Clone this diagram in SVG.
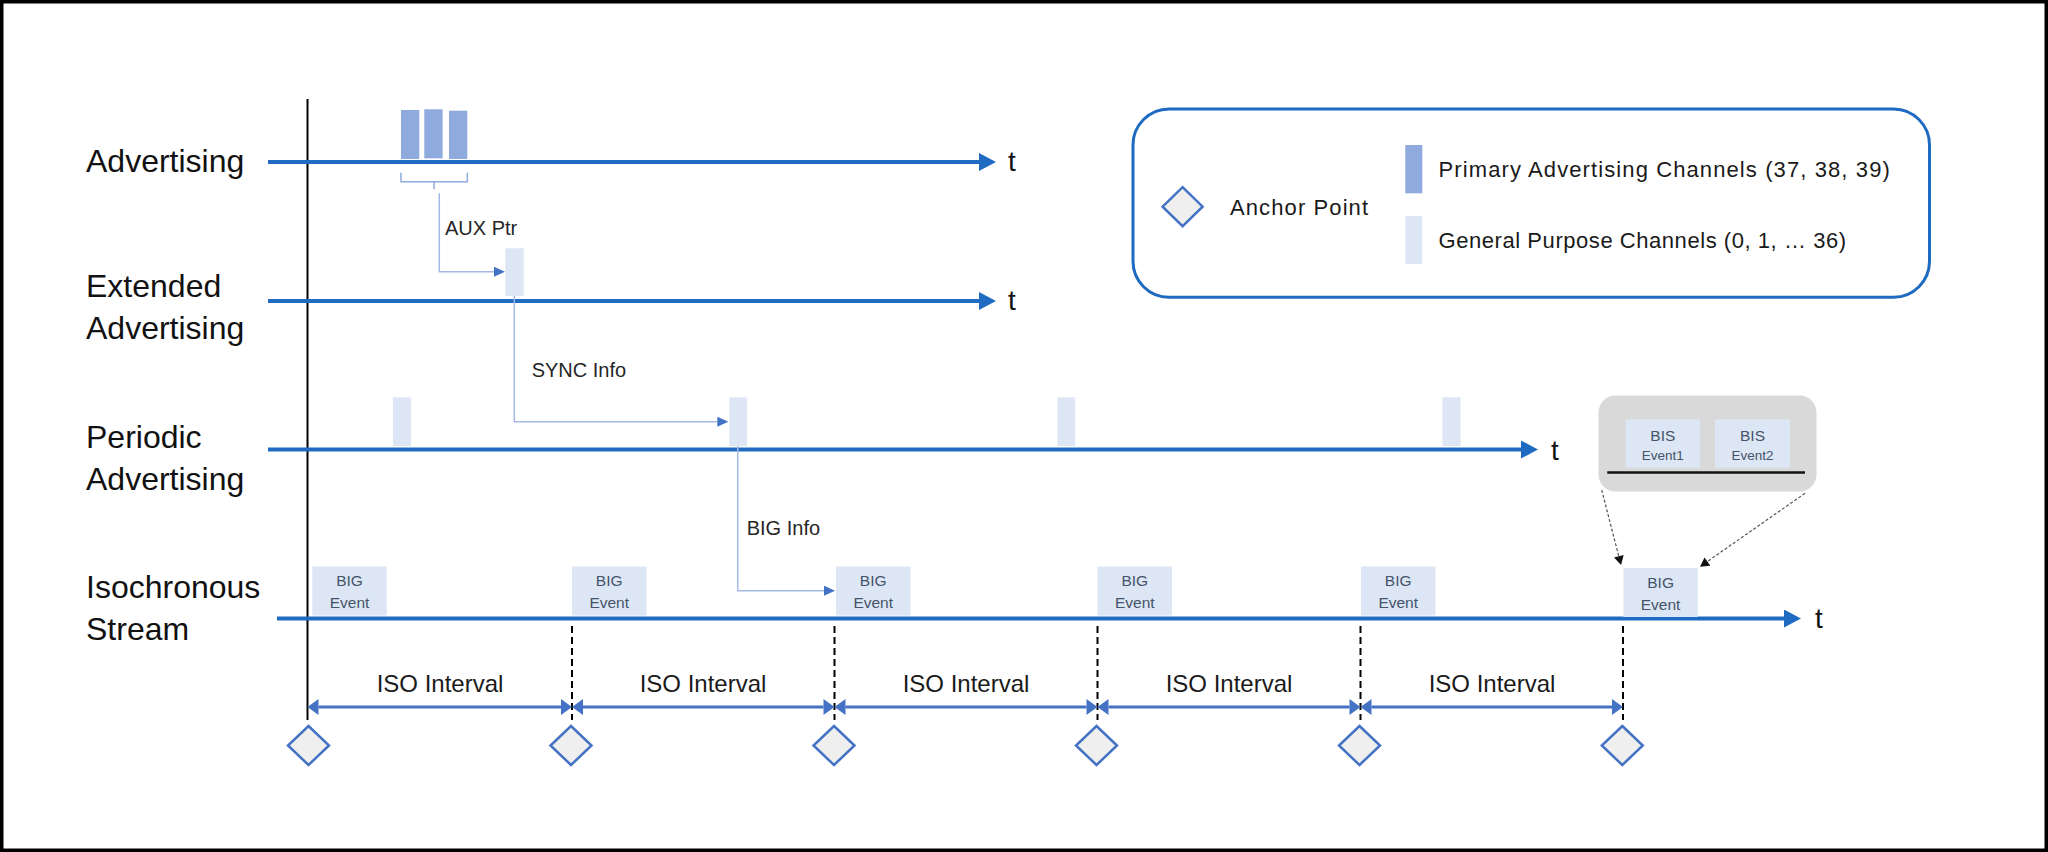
<svg xmlns="http://www.w3.org/2000/svg" width="2048" height="852" viewBox="0 0 2048 852">
<defs>
<style>
.lbl{font-family:"Liberation Sans",Arial,sans-serif;font-size:32px;fill:#111}
.t{font-family:"Liberation Sans",Arial,sans-serif;font-size:28px;fill:#111}
.small{font-family:"Liberation Sans",Arial,sans-serif;font-size:20px;fill:#262626}
.iso{font-family:"Liberation Sans",Arial,sans-serif;font-size:24px;fill:#1a1a1a;text-anchor:middle}
.leg{font-family:"Liberation Sans",Arial,sans-serif;font-size:22px;letter-spacing:1.1px;fill:#1a1a1a}
.evt{font-family:"Liberation Sans",Arial,sans-serif;font-size:15.5px;fill:#44546a;text-anchor:middle}
.evs{font-family:"Liberation Sans",Arial,sans-serif;font-size:13.5px;fill:#44546a;text-anchor:middle}
.tl{stroke:#1f6bc1;stroke-width:4;fill:none;marker-end:url(#mainArrow)}
.prim{fill:#8faadc}
.gp{fill:#dce6f4}
.conn{stroke:#a4b9e3;stroke-width:1.5;fill:none;marker-end:url(#connArrow)}
.isoarrow{stroke:#4472c4;stroke-width:3;fill:none;marker-start:url(#isoArrow);marker-end:url(#isoArrow)}
.dash{stroke:#000;stroke-width:2;stroke-dasharray:7 4;fill:none}
.dia{fill:#efefef;stroke:#4472c4;stroke-width:2.5}
.zoomline{stroke:#555;stroke-width:1.2;stroke-dasharray:3 2;fill:none;marker-end:url(#blackArrow)}
</style>
<marker id="mainArrow" markerUnits="userSpaceOnUse" markerWidth="18" markerHeight="18" viewBox="0 0 17 18" refX="0" refY="9" orient="auto">
<path d="M0,0 L17,9 L0,18 z" fill="#1f6bc1"/>
</marker>
<marker id="isoArrow" markerUnits="userSpaceOnUse" markerWidth="12" markerHeight="16" viewBox="0 0 11 16" refX="0" refY="8" orient="auto-start-reverse">
<path d="M0,0 L11,8 L0,16 z" fill="#4472c4"/>
</marker>
<marker id="connArrow" markerUnits="userSpaceOnUse" markerWidth="12" markerHeight="10" viewBox="0 0 11 10" refX="0" refY="5" orient="auto">
<path d="M0,0 L11,5 L0,10 z" fill="#4472c4"/>
</marker>
<marker id="blackArrow" markerUnits="userSpaceOnUse" markerWidth="10" markerHeight="10" viewBox="0 0 9 10" refX="0" refY="5" orient="auto">
<path d="M0,0 L9,5 L0,10 z" fill="#111"/>
</marker>
</defs>

<rect x="1.75" y="1.75" width="2044.5" height="848.5" fill="#fff" stroke="#000" stroke-width="3.5"/>

<!-- row labels -->
<g id="label-advertising"><text class="lbl" x="86" y="172">Advertising</text></g>
<g id="label-extended"><text class="lbl" x="86" y="297">Extended</text><text class="lbl" x="86" y="339">Advertising</text></g>
<g id="label-periodic"><text class="lbl" x="86" y="448">Periodic</text><text class="lbl" x="86" y="490">Advertising</text></g>
<g id="label-iso"><text class="lbl" x="86" y="598">Isochronous</text><text class="lbl" x="86" y="640">Stream</text></g>

<!-- start line -->
<g id="start-line"><line x1="307.5" y1="99" x2="307.5" y2="720" stroke="#000" stroke-width="2"/></g>

<!-- timelines -->
<g id="timelines">
<line class="tl" x1="268" y1="162" x2="979" y2="162"/>
<text class="t" x="1008" y="171">t</text>
<line class="tl" x1="268" y1="301" x2="979" y2="301"/>
<text class="t" x="1008" y="310">t</text>
<line class="tl" x1="268" y1="449.5" x2="1521" y2="449.5"/>
<text class="t" x="1551" y="460">t</text>
<line class="tl" x1="277" y1="618.5" x2="1784" y2="618.5"/>
<text class="t" x="1815" y="628">t</text>
</g>

<!-- primary advertising packets -->
<g id="adv-packets">
<rect class="prim" x="401" y="110" width="18.3" height="49"/>
<rect class="prim" x="424.3" y="109.3" width="18.3" height="49"/>
<rect class="prim" x="449" y="110.7" width="18.3" height="48.3"/>
<path d="M401,172.7 V181.7 H467.3 V172.7 M434,181.7 V189.3" stroke="#8faadc" stroke-width="1.5" fill="none"/>
</g>

<!-- extended adv packet -->
<g id="ext-packet"><rect class="gp" x="505.3" y="248.3" width="18.4" height="47.7"/></g>

<!-- periodic packets -->
<g id="periodic-packets">
<rect class="gp" x="393" y="397.3" width="18" height="48.7"/>
<rect class="gp" x="729.3" y="397.3" width="17.7" height="48.7"/>
<rect class="gp" x="1057.5" y="397.3" width="17.7" height="48.7"/>
<rect class="gp" x="1442.5" y="397.3" width="18" height="48.7"/>
</g>

<!-- BIG events -->
<g id="big-event-1"><rect class="gp" x="312.3" y="566.5" width="74.4" height="49"/><text class="evt" x="349.5" y="586">BIG</text><text class="evt" x="349.5" y="608">Event</text></g>
<g id="big-event-2"><rect class="gp" x="572" y="566.5" width="74.4" height="49"/><text class="evt" x="609.2" y="586">BIG</text><text class="evt" x="609.2" y="608">Event</text></g>
<g id="big-event-3"><rect class="gp" x="836" y="566.5" width="74.4" height="49"/><text class="evt" x="873.2" y="586">BIG</text><text class="evt" x="873.2" y="608">Event</text></g>
<g id="big-event-4"><rect class="gp" x="1097.6" y="566.5" width="74.4" height="49"/><text class="evt" x="1134.8" y="586">BIG</text><text class="evt" x="1134.8" y="608">Event</text></g>
<g id="big-event-5"><rect class="gp" x="1361" y="566.5" width="74.4" height="49"/><text class="evt" x="1398.2" y="586">BIG</text><text class="evt" x="1398.2" y="608">Event</text></g>
<g id="big-event-6"><rect class="gp" x="1623.4" y="568" width="74.4" height="49"/><text class="evt" x="1660.6" y="588">BIG</text><text class="evt" x="1660.6" y="610">Event</text></g>

<!-- BIS zoom popup -->
<g id="bis-popup">
<rect x="1598.5" y="395.5" width="218" height="96" rx="17" fill="#d9d9d9"/>
<rect class="gp" x="1625.7" y="419.3" width="74.3" height="48.4"/>
<rect class="gp" x="1715" y="419.3" width="75" height="48.4"/>
<text class="evt" x="1662.8" y="441">BIS</text><text class="evs" x="1662.8" y="460">Event1</text>
<text class="evt" x="1752.5" y="441">BIS</text><text class="evs" x="1752.5" y="460">Event2</text>
<line x1="1607.3" y1="472.5" x2="1805" y2="472.5" stroke="#111" stroke-width="2.5"/>
</g>

<!-- dashed boundaries -->
<g id="boundaries">
<line class="dash" x1="572" y1="626" x2="572" y2="720"/>
<line class="dash" x1="834.5" y1="626" x2="834.5" y2="720"/>
<line class="dash" x1="1097.5" y1="626" x2="1097.5" y2="720"/>
<line class="dash" x1="1360.5" y1="626" x2="1360.5" y2="720"/>
<line class="dash" x1="1623" y1="626" x2="1623" y2="720"/>
</g>

<!-- anchor points -->
<g id="anchors">
<path class="dia" d="M308.5,726 L329,745.5 L308.5,765 L288,745.5 z"/>
<path class="dia" d="M571,726 L591.5,745.5 L571,765 L550.5,745.5 z"/>
<path class="dia" d="M834,726 L854.5,745.5 L834,765 L813.5,745.5 z"/>
<path class="dia" d="M1096.5,726 L1117,745.5 L1096.5,765 L1076,745.5 z"/>
<path class="dia" d="M1359.5,726 L1380,745.5 L1359.5,765 L1339,745.5 z"/>
<path class="dia" d="M1622.3,726 L1642.8,745.5 L1622.3,765 L1601.8,745.5 z"/>
</g>

<!-- connectors -->
<g id="connectors">
<path class="conn" d="M439.3,193.3 V271.7 H494"/>
<path class="conn" d="M514.3,296 V421.7 H717.3"/>
<path class="conn" d="M737.7,446 V590.7 H824"/>
<line class="isoarrow" x1="318.5" y1="707" x2="561" y2="707"/>
<line class="isoarrow" x1="583" y1="707" x2="823.5" y2="707"/>
<line class="isoarrow" x1="845.5" y1="707" x2="1086.5" y2="707"/>
<line class="isoarrow" x1="1108.5" y1="707" x2="1349.5" y2="707"/>
<line class="isoarrow" x1="1371.5" y1="707" x2="1612" y2="707"/>
<line class="zoomline" x1="1601.7" y1="490" x2="1618.8" y2="556.3"/>
<line class="zoomline" x1="1805" y1="493.3" x2="1707.4" y2="561.5"/>
</g>

<!-- connector labels -->
<g id="connector-labels">
<text class="small" x="445" y="235">AUX Ptr</text>
<text class="small" x="531.7" y="377">SYNC Info</text>
<text class="small" x="746.7" y="535">BIG Info</text>
<text class="iso" x="440" y="691.7">ISO Interval</text>
<text class="iso" x="703" y="691.7">ISO Interval</text>
<text class="iso" x="966" y="691.7">ISO Interval</text>
<text class="iso" x="1229" y="691.7">ISO Interval</text>
<text class="iso" x="1492" y="691.7">ISO Interval</text>
</g>

<!-- legend -->
<g id="legend">
<rect x="1133" y="109" width="796.5" height="188.3" rx="36" fill="#fff" stroke="#1f6bc1" stroke-width="3"/>
<path class="dia" d="M1182.6,187.2 L1202.6,206.7 L1182.6,226.2 L1162.6,206.7 z"/>
<text class="leg" x="1230" y="215">Anchor Point</text>
<rect class="prim" x="1405.3" y="145" width="17" height="48.3"/>
<rect class="gp" x="1405.3" y="216" width="17" height="48"/>
<text class="leg" x="1438.6" y="176.7">Primary Advertising Channels (37, 38, 39)</text>
<text class="leg" x="1438.6" y="248.3" style="letter-spacing:0.55px">General Purpose Channels (0, 1, … 36)</text>
</g>
</svg>
